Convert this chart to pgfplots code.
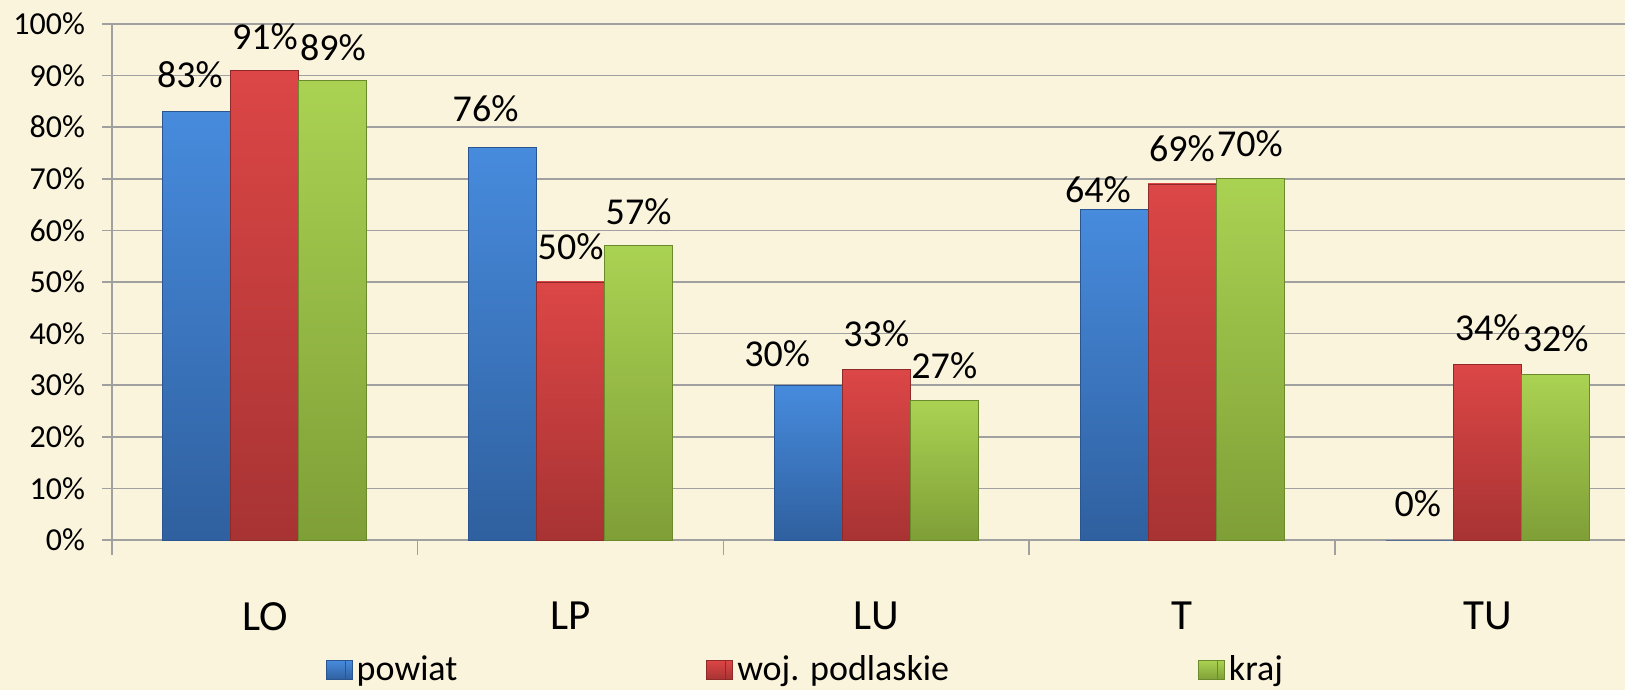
\documentclass[border=0pt]{standalone}
\usepackage{pgfplots}
\pgfplotsset{compat=1.18}
\usepackage{pgfplotstable}
\usepackage{fontspec}
\setmainfont{Carlito}
\definecolor{bg}{HTML}{FAF4DC}
\definecolor{gridgray}{HTML}{A0A0A0}
\definecolor{bluetop}{HTML}{478BDD}
\definecolor{bluebot}{HTML}{2F609F}
\definecolor{blueedge}{HTML}{2A5590}
\definecolor{redtop}{HTML}{DC4646}
\definecolor{redbot}{HTML}{A83333}
\definecolor{rededge}{HTML}{8E2A2A}
\definecolor{greentop}{HTML}{AAD252}
\definecolor{greenbot}{HTML}{7F9F37}
\definecolor{greenedge}{HTML}{6A8A2C}

\pgfplotstableread{
x y dx gap
0 83 -3.5 12
1 76 -8.5 13
2 30 -15.5 9
3 64 -8 3.5
4 0 -1 11.5
}\bluedata
\pgfplotstableread{
x y dx gap
0 91 0 10
1 50 0 11
2 33 0 11.5
3 69 0 11
4 34 0 11.5
}\reddata
\pgfplotstableread{
x y dx gap
0 89 0 10
1 57 0 10.5
2 27 0 10.5
3 70 0 11
4 32 0 11.5
}\greendata

\pgfplotsset{
  mylegend/.style={legend image code/.code={\path (0pt,-4.75pt) rectangle (13pt,4.75pt); \path[##1] (0pt,-4.75pt) rectangle (9.5pt,4.75pt);}},
  bluebar/.style={draw=blueedge, line width=0.4pt, top color=bluetop, bottom color=bluebot},
  redbar/.style={draw=rededge, line width=0.4pt, top color=redtop, bottom color=redbot},
  greenbar/.style={draw=greenedge, line width=0.4pt, top color=greentop, bottom color=greenbot},
}

\begin{document}
\begin{tikzpicture}
\fill[bg] (-56pt,-75pt) rectangle (756.5pt,270pt);
\begin{axis}[
  at={(0,0)}, anchor=south west, scale only axis,
  width=756.5pt, height=258pt,
  xmin=-0.5, xmax=4.449, ymin=0, ymax=100,
  ybar=0pt, bar width=34pt,
  axis x line*=bottom, axis y line*=left,
  axis line style={draw=gridgray, line width=0.75pt, -},
  ymajorgrids, grid style={draw=gridgray, line width=0.75pt},
  tick align=outside,
  major tick length=5pt,
  minor tick length=7.5pt,
  ytick={0,10,...,100},
  yticklabels={0\%,10\%,20\%,30\%,40\%,50\%,60\%,70\%,80\%,90\%,100\%},
  yticklabel style={font=\fontsize{16}{16}\selectfont, text=black, xshift=-5pt},
  ytick style={draw=gridgray, line width=0.75pt},
  xtick={0,1,2,3,4}, xticklabels={LO,LP,LU,T,TU},
  xticklabel style={font=\fontsize{21.5}{21.5}\selectfont, anchor=north, inner sep=0pt, yshift=-26pt},
  major x tick style={draw=none},
  minor xtick={-0.5,0.5,1.5,2.5,3.5},
  minor x tick style={draw=gridgray, line width=0.75pt},
  nodes near coords={\pgfmathprintnumber{\pgfplotspointmeta}\%},
  point meta=explicit,
  /pgf/number format/assume math mode=true,
  visualization depends on={\thisrow{dx} \as \mydx},
  visualization depends on={\thisrow{gap} \as \mygap},
  every node near coord/.append style={font=\fontsize{19}{19}\selectfont, text=black, anchor=south, inner sep=0pt, xshift=\mydx pt, yshift=\mygap pt},
  legend style={draw=none, fill=none, at={(0.1414,-0.2519)}, anchor=west, inner sep=0pt, outer sep=0pt,
    legend columns=3, font=\fontsize{18}{18}\selectfont,
    /tikz/every even column/.append style={column sep=122.5pt}},
  legend cell align=left,
]
\pgfplotsinvokeforeach{0,1,2,3,4}{
  \addplot[bluebar, forget plot, bar shift=-34pt, restrict x to domain=#1:#1] table[x=x, y=y, meta=y] {\bluedata};
  \addplot[redbar, forget plot, bar shift=0pt, restrict x to domain=#1:#1] table[x=x, y=y, meta=y] {\reddata};
  \addplot[greenbar, forget plot, bar shift=34pt, restrict x to domain=#1:#1] table[x=x, y=y, meta=y] {\greendata};
}
\addlegendimage{mylegend, bluebar}
\addlegendentry{powiat}
\addlegendimage{mylegend, redbar}
\addlegendentry{woj. podlaskie}
\addlegendimage{mylegend, greenbar}
\addlegendentry{kraj}
\end{axis}
\pgfresetboundingbox
\path[use as bounding box] (-56pt,-75pt) rectangle (756.5pt,270pt);
\end{tikzpicture}
\end{document}
